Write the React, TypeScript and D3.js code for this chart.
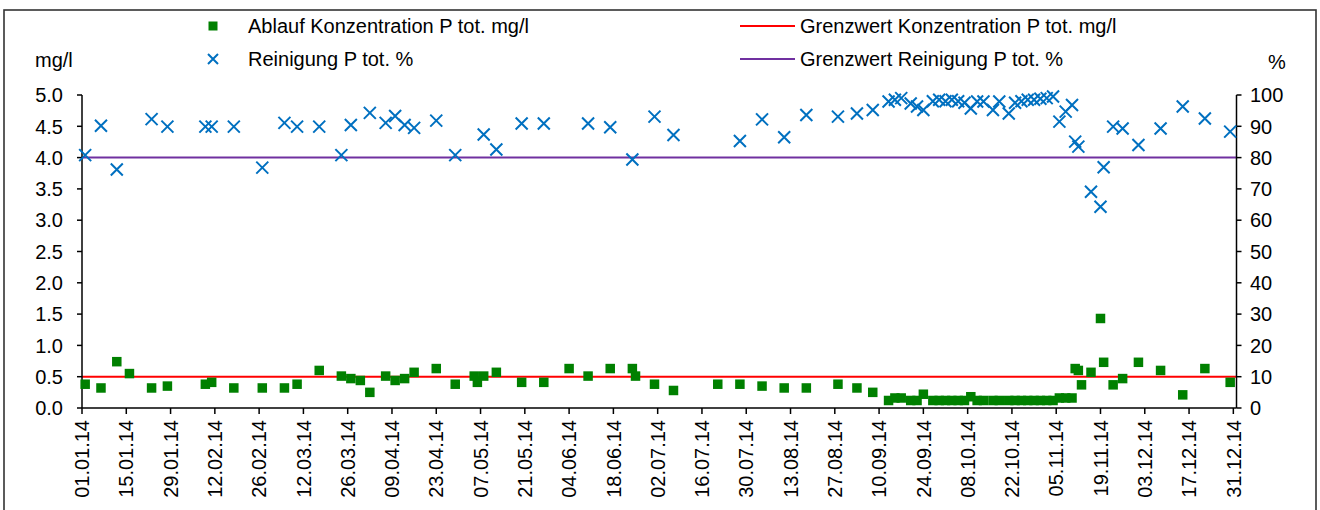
import React from "react";
import * as d3 from "d3";

const sampleDates: string[] = [
  "02.01.14","07.01.14","12.01.14","16.01.14","23.01.14","28.01.14","09.02.14","11.02.14","18.02.14","27.02.14",
  "06.03.14","10.03.14","17.03.14","24.03.14","27.03.14","30.03.14","02.04.14","07.04.14","10.04.14","13.04.14",
  "16.04.14","23.04.14","29.04.14","05.05.14","06.05.14","08.05.14","12.05.14","20.05.14","27.05.14","04.06.14",
  "10.06.14","17.06.14","24.06.14","25.06.14","01.07.14","07.07.14","21.07.14","28.07.14","04.08.14","11.08.14",
  "18.08.14","28.08.14","03.09.14","08.09.14","13.09.14","15.09.14","17.09.14","20.09.14","22.09.14","24.09.14",
  "27.09.14","29.09.14","01.10.14","03.10.14","05.10.14","07.10.14","09.10.14","11.10.14","13.10.14","16.10.14",
  "18.10.14","21.10.14","23.10.14","25.10.14","27.10.14","29.10.14","31.10.14","02.11.14","04.11.14","06.11.14",
  "08.11.14","10.11.14","11.11.14","12.11.14","13.11.14","16.11.14","19.11.14","20.11.14","23.11.14","26.11.14",
  "01.12.14","08.12.14","15.12.14","22.12.14","30.12.14",
];

// Ablauf Konzentration P tot. mg/l
const concentration: (number | null)[] = [
  0.38,0.32,0.74,0.55,0.32,0.35,0.38,0.41,0.32,0.32,
  0.32,0.38,0.60,0.51,0.47,0.44,0.25,0.51,0.44,0.47,
  0.57,0.63,0.38,0.51,0.41,0.51,0.57,0.41,0.41,0.63,
  0.51,0.63,0.63,0.51,0.38,0.28,0.38,0.38,0.35,0.32,
  0.32,0.38,0.32,0.25,0.12,0.16,0.16,0.12,0.12,0.22,
  0.12,0.12,0.12,0.12,0.12,0.12,0.18,0.12,0.12,0.12,
  0.12,0.12,0.12,0.12,0.12,0.12,0.12,0.12,0.12,0.16,
  0.16,0.16,0.63,0.60,0.37,0.57,1.43,0.73,0.37,0.47,
  0.73,0.60,0.21,0.63,0.41,
];

// Reinigung P tot. %
const purification: (number | null)[] = [
  80.8,90.2,76.2,null,92.3,89.9,89.9,89.9,89.9,76.8,
  91.1,89.9,89.9,80.8,90.4,null,94.3,91.1,93.3,90.4,
  89.5,91.8,80.8,null,null,87.4,82.6,90.9,90.9,null,
  90.9,89.7,79.4,null,93.1,87.2,null,85.3,92.2,86.5,
  93.6,93.1,94.1,95.2,97.9,98.5,99.0,97.3,96.3,95.2,
  98.0,98.5,98.0,98.5,98.0,97.5,95.7,97.9,97.9,95.2,
  97.9,94.1,97.5,98.0,98.5,98.5,98.8,99.0,99.5,91.5,
  94.7,96.8,85.1,83.5,null,69.1,64.3,76.9,89.9,89.3,
  84.0,89.3,96.3,92.5,88.3,
];

const limitConcentration = 0.5; // Grenzwert Konzentration P tot. mg/l
const limitPurification = 80; // Grenzwert Reinigung P tot. %

const xTickLabels: string[] = [
  "01.01.14","15.01.14","29.01.14","12.02.14","26.02.14","12.03.14","26.03.14","09.04.14","23.04.14",
  "07.05.14","21.05.14","04.06.14","18.06.14","02.07.14","16.07.14","30.07.14","13.08.14","27.08.14",
  "10.09.14","24.09.14","08.10.14","22.10.14","05.11.14","19.11.14","03.12.14","17.12.14","31.12.14",
];
const leftTicks: number[] = [0, 0.5, 1, 1.5, 2, 2.5, 3, 3.5, 4, 4.5, 5];
const rightTicks: number[] = [0, 10, 20, 30, 40, 50, 60, 70, 80, 90, 100];

const legendLabels: string[] = [
  "Ablauf Konzentration P tot. mg/l",
  "Reinigung P tot. %",
  "Grenzwert Konzentration P tot. mg/l",
  "Grenzwert Reinigung P tot. %",
];

const parse = d3.timeParse("%d.%m.%y");

const GREEN = "#008000";
const BLUE = "#0070C0";
const RED = "#FF0000";
const PURPLE = "#7030A0";
const FONT = "'Liberation Sans', Arial, sans-serif";

export default function App() {
  const left = 82;
  const right = 1236.5;
  const top = 95;
  const bottom = 408;

  const x = d3
    .scaleTime()
    .domain([parse("01.01.14") as Date, parse("01.01.15") as Date])
    .range([left, right]);
  const yL = d3.scaleLinear().domain([0, 5]).range([bottom, top]);
  const yR = d3.scaleLinear().domain([0, 100]).range([bottom, top]);

  const dates = sampleDates.map((s) => parse(s) as Date);
  const xSize = 6;
  const sq = 9.5;

  return (
    <svg
      width={1320}
      height={510}
      style={{ position: "absolute", left: 0, top: 0, background: "#fff" }}
      fontFamily={FONT}
    >
      <rect x={0} y={0} width={1320} height={510} fill="#fff" />
      <rect x={4} y={10} width={1312} height={560} fill="none" stroke="#333" strokeWidth={1.6} />

      {/* limit lines */}
      <line x1={left} x2={right} y1={yL(limitConcentration)} y2={yL(limitConcentration)} stroke={RED} strokeWidth={2} />
      <line x1={left} x2={right} y1={yR(limitPurification)} y2={yR(limitPurification)} stroke={PURPLE} strokeWidth={2} />

      {/* axes */}
      <g stroke="#000" strokeWidth={1.5}>
        <line x1={left} x2={left} y1={top} y2={bottom} />
        <line x1={right} x2={right} y1={top} y2={bottom} />
        <line x1={left} x2={right} y1={bottom} y2={bottom} />
        {leftTicks.map((t) => (
          <line key={"lt" + t} x1={left - 5} x2={left} y1={yL(t)} y2={yL(t)} />
        ))}
        {rightTicks.map((t) => (
          <line key={"rt" + t} x1={right} x2={right + 5} y1={yR(t)} y2={yR(t)} />
        ))}
        {xTickLabels.map((s) => {
          const px = x(parse(s) as Date);
          return <line key={"xt" + s} x1={px} x2={px} y1={bottom} y2={bottom + 6} />;
        })}
      </g>

      <g fontSize={20} fill="#000">
        {leftTicks.map((t) => (
          <text key={"ll" + t} x={63} y={yL(t)} dy="0.36em" textAnchor="end">
            {d3.format(".1f")(t)}
          </text>
        ))}
        {rightTicks.map((t) => (
          <text key={"rl" + t} x={1250} y={yR(t)} dy="0.36em" textAnchor="start">
            {t}
          </text>
        ))}
        {xTickLabels.map((s) => {
          const px = x(parse(s) as Date);
          return (
            <text
              key={"xl" + s}
              transform={`translate(${px},${bottom + 12}) rotate(-90)`}
              dy="0.36em"
              textAnchor="end"
            >
              {s}
            </text>
          );
        })}
        <text x={35} y={60} dy="0.36em">mg/l</text>
        <text x={1268} y={62} dy="0.36em">%</text>
      </g>

      {/* concentration squares */}
      <g fill={GREEN}>
        {dates.map((d, i) =>
          concentration[i] == null ? null : (
            <rect
              key={"c" + i}
              x={x(d) - sq / 2}
              y={yL(concentration[i] as number) - sq / 2}
              width={sq}
              height={sq}
            />
          )
        )}
      </g>

      {/* purification crosses */}
      <g stroke={BLUE} strokeWidth={2} fill="none">
        {dates.map((d, i) => {
          const v = purification[i];
          if (v == null) return null;
          const cx = x(d);
          const cy = yR(v);
          return (
            <path
              key={"p" + i}
              d={`M${cx - xSize},${cy - xSize}L${cx + xSize},${cy + xSize}M${cx - xSize},${cy + xSize}L${cx + xSize},${cy - xSize}`}
            />
          );
        })}
      </g>

      {/* legend */}
      <g fontSize={20} fill="#000">
        <rect x={213 - 4.5} y={26 - 4.5} width={9} height={9} fill={GREEN} />
        <text x={248} y={26} dy="0.36em">{legendLabels[0]}</text>
        <path d={`M${213 - 5},${59 - 5}L${213 + 5},${59 + 5}M${213 - 5},${59 + 5}L${213 + 5},${59 - 5}`} stroke={BLUE} strokeWidth={2} />
        <text x={248} y={59} dy="0.36em">{legendLabels[1]}</text>
        <line x1={740} x2={795} y1={26} y2={26} stroke={RED} strokeWidth={2} />
        <text x={800} y={26} dy="0.36em">{legendLabels[2]}</text>
        <line x1={740} x2={795} y1={59} y2={59} stroke={PURPLE} strokeWidth={2} />
        <text x={800} y={59} dy="0.36em">{legendLabels[3]}</text>
      </g>
    </svg>
  );
}
